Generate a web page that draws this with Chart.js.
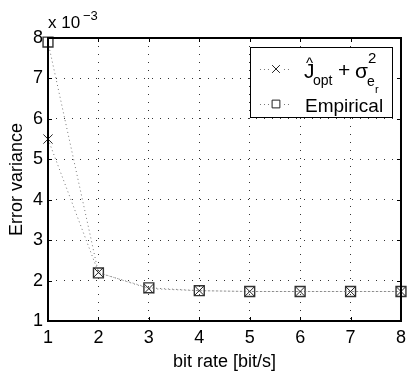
<!DOCTYPE html>
<html>
<head>
<meta charset="utf-8">
<script src="https://cdn.jsdelivr.net/npm/chart.js@4/dist/chart.umd.min.js"></script>
<style>
  html, body { margin: 0; padding: 0; background: #fff; }
  #wrap { width: 412px; height: 373px; }
</style>
</head>
<body>
<div id="wrap"><canvas id="errChart" width="412" height="373"></canvas></div>
<script>
// data (error variance in units of 1e-3)
const bitRates = [1, 2, 3, 4, 5, 6, 7, 8];
const jOptValues = [5.5, 2.2, 1.8, 1.75, 1.73, 1.73, 1.73, 1.73];
const empiricalValues = [7.9, 2.19, 1.82, 1.75, 1.73, 1.73, 1.73, 1.73];
const xTickValues = [1, 2, 3, 4, 5, 6, 7, 8];
const yTickValues = [1, 2, 3, 4, 5, 6, 7, 8];

const FONT = '"Liberation Sans", Arial, Helvetica, sans-serif';

// box, inner ticks, exponent label and legend drawn on top
const matlabDecor = {
    id: 'matlabDecor',
    afterDraw(chart) {
        const ctx = chart.ctx;
        const a = chart.chartArea;
        const xs = chart.scales.x, ys = chart.scales.y;
        ctx.save();

        // inner ticks
        ctx.strokeStyle = '#000';
        ctx.lineWidth = 1;
        ctx.beginPath();
        xTickValues.forEach(v => {
            const px = Math.round(xs.getPixelForValue(v)) + 0.5;
            ctx.moveTo(px, a.bottom); ctx.lineTo(px, a.bottom - 4);
            ctx.moveTo(px, a.top); ctx.lineTo(px, a.top + 4);
        });
        yTickValues.forEach(v => {
            const py = Math.round(ys.getPixelForValue(v)) + 0.5;
            ctx.moveTo(a.left, py); ctx.lineTo(a.left + 4, py);
            ctx.moveTo(a.right, py); ctx.lineTo(a.right - 4, py);
        });
        ctx.stroke();

        // axes box
        ctx.lineWidth = 2;
        ctx.strokeRect(a.left, a.top, a.right - a.left, a.bottom - a.top);

        // x 10^-3
        ctx.fillStyle = '#000';
        ctx.textBaseline = 'alphabetic';
        ctx.textAlign = 'left';
        ctx.font = '17px ' + FONT;
        ctx.fillText('x 10', a.left, a.top - 10);
        ctx.font = '13px ' + FONT;
        ctx.fillText('\u22123', a.left + 35, a.top - 18);

        // legend
        const lx = a.right - 151, ly = a.top + 9, lw = 142, lh = 70;
        ctx.fillStyle = '#fff';
        ctx.fillRect(lx, ly, lw, lh);
        ctx.lineWidth = 1;
        ctx.strokeStyle = '#000';
        ctx.strokeRect(lx + 0.5, ly + 0.5, lw, lh);

        const rows = [
            { y: ly + 22, style: 'crossRot', radius: 5.5 },
            { y: ly + 57, style: 'rect', radius: 5.5 }
        ];
        rows.forEach(r => {
            ctx.save();
            ctx.strokeStyle = '#777';
            ctx.setLineDash([1, 3]);
            ctx.beginPath();
            ctx.moveTo(lx + 10, r.y + 0.5);
            ctx.lineTo(lx + 42, r.y + 0.5);
            ctx.stroke();
            ctx.restore();
            ctx.fillStyle = '#fff';
            ctx.fillRect(lx + 20, r.y - 5, 12, 11);
            ctx.strokeStyle = '#222';
            ctx.lineWidth = 1;
            Chart.helpers.drawPoint(ctx, { pointStyle: r.style, radius: r.radius, rotation: 0, borderWidth: 1 }, lx + 26, r.y);
        });

        ctx.fillStyle = '#000';
        ctx.textAlign = 'left';
        const tx = lx + 54;
        const b1 = ly + 31;
        ctx.font = '21px ' + FONT;
        ctx.fillText('J', tx, b1);
        ctx.font = '15px ' + FONT;
        ctx.fillText('^', tx + 2, b1 - 10);
        ctx.font = '14px ' + FONT;
        ctx.fillText('opt', tx + 9, b1 + 7);
        ctx.font = '21px ' + FONT;
        ctx.fillText('+', tx + 34, b1 - 1);
        ctx.fillText('\u03c3', tx + 51, b1);
        ctx.font = '15px ' + FONT;
        ctx.fillText('2', tx + 64, b1 - 15);
        ctx.font = '14px ' + FONT;
        ctx.fillText('e', tx + 63, b1 + 8);
        ctx.font = '11px ' + FONT;
        ctx.fillText('r', tx + 71, b1 + 15);

        ctx.font = '19px ' + FONT;
        ctx.fillText('Empirical', lx + 55, ly + 65);

        ctx.restore();
    }
};

new Chart(document.getElementById('errChart'), {
    type: 'line',
    data: {
        datasets: [
            {
                label: 'J_opt + sigma^2',
                data: bitRates.map((x, i) => ({ x: x, y: jOptValues[i] })),
                borderColor: '#777',
                borderWidth: 1,
                borderDash: [1, 3],
                pointStyle: 'crossRot',
                pointRadius: 6.5,
                pointBorderColor: '#222',
                pointBorderWidth: 1,
                pointBackgroundColor: 'transparent',
                clip: false,
                tension: 0
            },
            {
                label: 'Empirical',
                data: bitRates.map((x, i) => ({ x: x, y: empiricalValues[i] })),
                borderColor: '#777',
                borderWidth: 1,
                borderDash: [1, 3],
                pointStyle: 'rect',
                pointRadius: 7,
                pointBorderColor: '#333',
                pointBorderWidth: 1.4,
                pointBackgroundColor: 'transparent',
                clip: false,
                tension: 0
            }
        ]
    },
    options: {
        responsive: false,
        animation: false,
        devicePixelRatio: 1,
        layout: { padding: { top: 38, right: 5, left: 0, bottom: 0 } },
        plugins: {
            legend: { display: false },
            tooltip: { enabled: false }
        },
        scales: {
            x: {
                type: 'linear',
                min: 1, max: 8,
                afterBuildTicks: s => { s.ticks = xTickValues.map(v => ({ value: v })); },
                afterFit: s => { s.height = 52; },
                ticks: { color: '#000', font: { family: FONT, size: 18 }, padding: 6, maxRotation: 0 },
                grid: { color: '#333', drawTicks: false, lineWidth: 1 },
                border: { display: false, dash: [1, 7] },
                title: { display: true, text: 'bit rate [bit/s]', color: '#000', font: { family: FONT, size: 18 }, padding: { top: 0, bottom: 0 } }
            },
            y: {
                type: 'linear',
                min: 1, max: 8,
                afterBuildTicks: s => { s.ticks = yTickValues.map(v => ({ value: v })); },
                afterFit: s => { s.width = 48; },
                ticks: { color: '#000', font: { family: FONT, size: 18 }, padding: 5 },
                grid: { color: '#333', drawTicks: false, lineWidth: 1 },
                border: { display: false, dash: [1, 7] },
                title: { display: true, text: 'Error variance', color: '#000', font: { family: FONT, size: 18 }, padding: { top: 6, bottom: 0 } }
            }
        }
    },
    plugins: [matlabDecor]
});
</script>
</body>
</html>
